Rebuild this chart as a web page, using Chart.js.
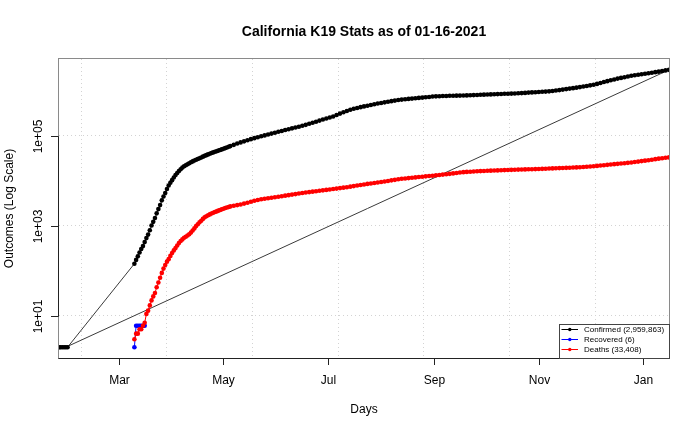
<!DOCTYPE html>
<html>
<head>
<meta charset="utf-8">
<title>California K19 Stats</title>
<script src="https://cdn.jsdelivr.net/npm/chart.js@4.4.1/dist/chart.umd.min.js"></script>
<style>
  html, body { margin: 0; padding: 0; background: #fff; }
  #wrap { width: 700px; height: 432px; position: relative; }
</style>
</head>
<body>
<div id="wrap"><canvas id="myChart"></canvas></div>
<script>
// day 0 of the x axis is the first row of the data
const startDate = '2020-01-26';
const reportDate = '01-16-2021';

// first rows, before the gap in the data
const earlyDays = [0, 1, 2, 3, 4, 5];
const earlyConfirmed = [2, 2, 2, 2, 2, 2];

// from day 44 (10 March): one value a day up to day 100, then every second day
const confirmed = [
    144, 175, 210, 255, 305, 355, 436, 535, 640, 800,
    1020, 1230, 1500, 1900, 2360, 2900, 3700, 4500, 5400, 6600,
    7900, 9100, 10400, 11900, 13500, 15000, 16600, 18200, 19800, 21200,
    22400, 23500, 24800, 26000, 27200, 28400, 29600, 30800, 32000, 33300,
    34700, 36100, 37500, 38900, 40300, 41700, 43100, 44500, 45900, 47300,
    48800, 50300, 52000, 53800, 55600, 57500, 59500,
    // every second day from day 102
    63500, 67800, 72000, 76000, 80500, 85000, 89500, 94000, 98500, 103000,
    108000, 113000, 118000, 124000, 129500, 135500, 141500, 148000, 154500, 161000,
    168500, 177000, 187000, 197500, 208000, 220000, 232000, 245000, 258000, 272000,
    293000, 315000, 337000, 360000, 383000, 402000, 420000, 438000, 455000, 472000,
    490000, 508000, 526000, 543000, 560000, 578000, 596000, 613000, 630000, 644000,
    656000, 668000, 679000, 691000, 703000, 715000, 727000, 739000, 753000, 761000,
    767000, 773000, 778000, 783000, 786000, 789000, 792000, 795000, 800000, 806000,
    812000, 818000, 824000, 830000, 836000, 842000, 849000, 855000, 861000, 867000,
    872000, 877000, 883000, 891000, 900000, 909000, 922000, 932000, 942000, 952000,
    962000, 972000, 985000, 1000000, 1025000, 1050000, 1077000, 1105000, 1133000, 1160000,
    1190000, 1222000, 1260000, 1298000, 1337000, 1380000, 1440000, 1510000, 1590000, 1660000,
    1735000, 1810000, 1890000, 1960000, 2030000, 2110000, 2180000, 2240000, 2300000, 2360000,
    2425000, 2490000, 2560000, 2630000, 2700000, 2790000, 2880000, 2959863
];

const deaths = [
    3, 4, 4, 5, 5, 6, 7, 11, 13, 17,
    22, 27, 32, 43, 55, 70, 90, 112, 135, 160,
    182, 215, 250, 285, 320, 365, 415, 460, 500, 545,
    575, 610, 650, 710, 790, 880, 990, 1090, 1200, 1300,
    1430, 1550, 1640, 1720, 1800, 1880, 1960, 2030, 2100, 2180,
    2250, 2330, 2410, 2490, 2570, 2640, 2710,
    // every second day from day 102
    2810, 2900, 3000, 3130, 3280, 3450, 3620, 3760, 3900, 4020,
    4130, 4240, 4350, 4450, 4580, 4700, 4830, 4960, 5100, 5250,
    5400, 5520, 5650, 5770, 5900, 6040, 6180, 6320, 6460, 6600,
    6760, 6920, 7080, 7260, 7460, 7680, 7900, 8120, 8350, 8580,
    8800, 9020, 9250, 9480, 9720, 10000, 10290, 10580, 10880, 11150,
    11350, 11550, 11760, 11980, 12200, 12420, 12640, 12860, 13080, 13320,
    13570, 13830, 14100, 14380, 14700, 15020, 15350, 15700, 15880, 16050,
    16220, 16400, 16560, 16680, 16800, 16920, 17050, 17170, 17290, 17400,
    17520, 17640, 17760, 17860, 17950, 18040, 18130, 18230, 18350, 18470,
    18590, 18720, 18860, 19000, 19140, 19280, 19420, 19560, 19700, 19850,
    20000, 20150, 20420, 20700, 20980, 21270, 21600, 22000, 22400, 22800,
    23200, 23620, 24020, 24420, 24830, 25250, 25680, 26300, 26950, 27600,
    28250, 28900, 29700, 30500, 31300, 32000, 32700, 33408
];

const recoveredDays = [44, 45, 46, 47, 48, 49, 50];
const recovered = [2, 6, 6, 6, 6, 6, 6];

// straight reference line from the early rows to the last report
const trendDays = [4, 356];
const trendValues = [2, 2959863];

const monthLabels = ['Mar', 'May', 'Jul', 'Sep', 'Nov', 'Jan'];
const monthDates = ['2020-03-01', '2020-05-01', '2020-07-01', '2020-09-01', '2020-11-01', '2021-01-01'];
const gridDates = ['2020-02-08', '2020-03-29', '2020-05-18', '2020-07-07', '2020-08-26', '2020-10-15', '2020-12-04'];
const yTickValues = [10, 1000, 100000];
const yTickLabels = ['1e+01', '1e+03', '1e+05'];

const FONT = '"Liberation Sans", Arial, Helvetica, sans-serif';

function dayOf(dateStr) {
    return Math.round((Date.parse(dateStr) - Date.parse(startDate)) / 86400000);
}

const mainDays = [];
for (let d = 44; d <= 100; d++) mainDays.push(d);
for (let d = 102; d <= 356; d += 2) mainDays.push(d);

if (mainDays.length !== confirmed.length || mainDays.length !== deaths.length) {
    console.error('longueurs différentes', mainDays.length, confirmed.length, deaths.length);
}

const confirmedPoints = earlyDays.map((d, i) => ({x: d, y: earlyConfirmed[i]}))
    .concat(mainDays.map((d, i) => ({x: d, y: confirmed[i]})));
const deathPoints = mainDays.map((d, i) => ({x: d, y: deaths[i]}));
const recoveredPoints = recoveredDays.map((d, i) => ({x: d, y: recovered[i]}));
const trendPoints = trendDays.map((d, i) => ({x: d, y: trendValues[i]}));

const fmt = n => n.toLocaleString('en-US');
const legendItems = [
    {text: 'Confirmed (' + fmt(confirmed[confirmed.length - 1]) + ')', color: '#000000'},
    {text: 'Recovered (' + fmt(recovered[recovered.length - 1]) + ')', color: '#0000ff'},
    {text: 'Deaths (' + fmt(deaths[deaths.length - 1]) + ')', color: '#ff0000'}
];

// axes, labels, frame and legend drawn the way base R does it
const rDecor = {
    id: 'rDecor',
    afterDraw(chart) {
        const {ctx, chartArea: a, scales: {x, y}} = chart;
        const cx = (a.left + a.right) / 2;
        const cy = (a.top + a.bottom) / 2;
        ctx.save();

        // frame
        ctx.lineWidth = 1;
        ctx.strokeStyle = '#8a8a8a';
        ctx.strokeRect(a.left - 0.5, a.top - 0.5, a.right - a.left + 1, a.bottom - a.top + 1);

        // bottom axis
        ctx.strokeStyle = '#222';
        ctx.beginPath();
        ctx.moveTo(a.left - 0.5, a.bottom + 0.5);
        ctx.lineTo(a.right + 0.5, a.bottom + 0.5);
        ctx.stroke();
        ctx.fillStyle = '#000';
        ctx.font = '12px ' + FONT;
        ctx.textAlign = 'center';
        ctx.textBaseline = 'middle';
        monthDates.forEach((ds, i) => {
            const px = Math.round(x.getPixelForValue(dayOf(ds))) + 0.5;
            ctx.beginPath();
            ctx.moveTo(px, a.bottom);
            ctx.lineTo(px, a.bottom + 7);
            ctx.stroke();
            ctx.fillText(monthLabels[i], px, a.bottom + 23);
        });

        // left axis
        const yTop = Math.round(y.getPixelForValue(yTickValues[yTickValues.length - 1])) + 0.5;
        const yBot = Math.round(y.getPixelForValue(yTickValues[0])) + 0.5;
        ctx.beginPath();
        ctx.moveTo(a.left - 0.5, yTop);
        ctx.lineTo(a.left - 0.5, yBot);
        ctx.stroke();
        yTickValues.forEach((v, i) => {
            const py = Math.round(y.getPixelForValue(v)) + 0.5;
            ctx.beginPath();
            ctx.moveTo(a.left - 0.5, py);
            ctx.lineTo(a.left - 8, py);
            ctx.stroke();
            ctx.save();
            ctx.translate(a.left - 20, py);
            ctx.rotate(-Math.PI / 2);
            ctx.fillText(yTickLabels[i], 0, 0);
            ctx.restore();
        });

        // axis titles
        ctx.fillText('Days', cx, a.bottom + 52);
        ctx.save();
        ctx.translate(10, cy);
        ctx.rotate(-Math.PI / 2);
        ctx.fillText('Outcomes (Log Scale)', 0, 0);
        ctx.restore();

        // main title
        ctx.font = 'bold 14px ' + FONT;
        ctx.fillText('California K19 Stats as of ' + reportDate, cx, 32);

        // legend, bottom right inside the plot
        ctx.font = '8px ' + FONT;
        const textW = Math.max(...legendItems.map(l => ctx.measureText(l.text).width));
        const boxW = Math.round(textW + 30);
        const boxH = 34;
        const bx = a.right - boxW;
        const by = a.bottom - boxH;
        ctx.fillStyle = '#fff';
        ctx.fillRect(bx, by, boxW, boxH);
        ctx.strokeStyle = '#444';
        ctx.strokeRect(bx + 0.5, by + 0.5, boxW, boxH);
        ctx.textAlign = 'left';
        legendItems.forEach((item, i) => {
            const ly = by + 5.5 + i * 10;
            ctx.strokeStyle = item.color;
            ctx.fillStyle = item.color;
            ctx.beginPath();
            ctx.moveTo(bx + 2.5, ly);
            ctx.lineTo(bx + 19, ly);
            ctx.stroke();
            ctx.beginPath();
            ctx.arc(bx + 10.8, ly, 1.7, 0, Math.PI * 2);
            ctx.fill();
            ctx.fillStyle = '#000';
            ctx.fillText(item.text, bx + 25, ly + 0.5);
        });

        ctx.restore();
    }
};

function series(label, data, color, lineColor, radius) {
    return {
        label: label,
        data: data,
        borderColor: lineColor,
        backgroundColor: color,
        borderWidth: 1,
        pointRadius: radius,
        pointBorderWidth: 0,
        pointBackgroundColor: color,
        pointHoverRadius: radius,
        fill: false,
        tension: 0
    };
}

const ctx = document.getElementById('myChart').getContext('2d');
new Chart(ctx, {
    type: 'line',
    data: {
        datasets: [
            series('Deaths', deathPoints, '#ff0000', '#ff0000', 2.3),
            series('Recovered', recoveredPoints, '#0000ff', '#0000ff', 2.3),
            series('Confirmed', confirmedPoints, '#000000', '#3a3a3a', 2.3),
            series('Trend', trendPoints, '#000000', '#3a3a3a', 0)
        ]
    },
    options: {
        responsive: true,
        maintainAspectRatio: false,
        animation: false,
        events: [],
        layout: {
            padding: {left: 59, right: 31, top: 59, bottom: 74}
        },
        plugins: {
            legend: {display: false},
            tooltip: {enabled: false},
            title: {display: false}
        },
        scales: {
            x: {
                type: 'linear',
                min: 0,
                max: dayOf('2021-01-16'),
                afterBuildTicks: scale => {
                    scale.ticks = gridDates.map(ds => ({value: dayOf(ds)}));
                },
                ticks: {display: false},
                grid: {color: '#d3d3d3', lineWidth: 1, drawTicks: false},
                border: {display: false, dash: [1, 3]}
            },
            y: {
                type: 'logarithmic',
                min: 1.15,
                max: 5.16e6,
                afterBuildTicks: scale => {
                    scale.ticks = yTickValues.map(v => ({value: v}));
                },
                ticks: {display: false},
                grid: {color: '#d3d3d3', lineWidth: 1, drawTicks: false},
                border: {display: false, dash: [1, 3]}
            }
        }
    },
    plugins: [rDecor]
});
</script>
</body>
</html>
